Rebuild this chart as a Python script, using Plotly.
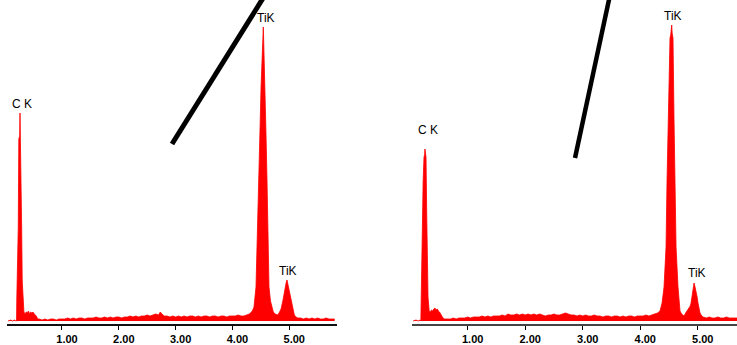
import plotly.graph_objects as go

# ---------------- data ----------------
left_energy = [0.05, 0.10, 0.13, 0.16, 0.19, 0.20, 0.205, 0.23, 0.24, 0.255, 0.261, 0.267, 0.278, 0.29, 0.30, 0.31,
               0.33, 0.35, 0.37, 0.39, 0.41, 0.43, 0.45, 0.47, 0.49, 0.51, 0.53, 0.55, 0.57, 0.60, 0.65, 0.70,
               0.75, 0.80, 0.85, 0.90, 0.95, 1.00, 1.05, 1.10, 1.15, 1.20, 1.25, 1.30, 1.35, 1.40, 1.45, 1.50,
               1.55, 1.60, 1.65, 1.70, 1.75, 1.80, 1.85, 1.90, 1.95, 2.00, 2.05, 2.10, 2.15, 2.20, 2.25, 2.30,
               2.35, 2.40, 2.45, 2.50, 2.55, 2.60, 2.65, 2.70, 2.73, 2.76, 2.80, 2.85, 2.90, 2.95, 3.00, 3.05,
               3.10, 3.15, 3.20, 3.25, 3.30, 3.35, 3.40, 3.45, 3.50, 3.55, 3.60, 3.65, 3.70, 3.75, 3.80, 3.85,
               3.90, 3.95, 4.00, 4.05, 4.10, 4.15, 4.20, 4.25, 4.30, 4.35, 4.38, 4.415, 4.433, 4.45, 4.468, 4.485,
               4.504, 4.521, 4.538, 4.544, 4.55, 4.556, 4.574, 4.59, 4.609, 4.627, 4.644, 4.67, 4.697, 4.72, 4.75,
               4.78, 4.80, 4.83, 4.856, 4.891, 4.91, 4.926, 4.945, 4.961, 4.98, 4.996, 5.015, 5.032, 5.05, 5.067,
               5.09, 5.12, 5.15, 5.20, 5.25, 5.30, 5.35, 5.40, 5.45, 5.50, 5.55, 5.60, 5.65, 5.70, 5.75, 5.80]
left_counts = [0, 1, 0, 1, 0, 0, 24, 93, 182, 185, 208, 185, 182, 93, 40, 24,
               9, 7, 9, 8, 10, 7, 9, 8, 9, 7, 6, 5, 2, 2, 1, 2,
               1, 2, 2, 1, 2, 2, 2, 3, 2, 3, 2, 3, 3, 2, 3, 3,
               3, 4, 3, 3, 4, 3, 4, 3, 4, 4, 3, 4, 4, 5, 4, 5,
               4, 5, 5, 6, 5, 6, 7, 6, 9, 7, 5, 5, 4, 5, 4, 5,
               4, 5, 4, 5, 5, 4, 5, 4, 5, 5, 4, 5, 5, 4, 5, 5,
               4, 5, 5, 5, 6, 5, 5, 6, 7, 10, 14, 34, 68, 100, 141, 190,
               234, 262, 281, 294, 281, 262, 234, 190, 141, 68, 34, 20, 14, 9, 7,
               6, 6, 9, 12, 21, 28, 33, 38, 41, 36, 30, 25, 21, 15, 10,
               6, 4, 3, 3, 2, 3, 2, 3, 2, 3, 2, 2, 3, 2, 2, 2]

right_energy = [0.05, 0.10, 0.14, 0.17, 0.185, 0.19, 0.21, 0.225, 0.24, 0.25, 0.257, 0.264, 0.275, 0.287, 0.30, 0.31,
                0.33, 0.35, 0.37, 0.39, 0.41, 0.43, 0.45, 0.47, 0.49, 0.51, 0.53, 0.55, 0.57, 0.60, 0.65, 0.70,
                0.75, 0.80, 0.85, 0.90, 0.95, 1.00, 1.05, 1.10, 1.15, 1.20, 1.25, 1.30, 1.35, 1.40, 1.45, 1.50,
                1.55, 1.60, 1.65, 1.70, 1.75, 1.80, 1.85, 1.90, 1.95, 2.00, 2.05, 2.10, 2.15, 2.20, 2.25, 2.30,
                2.35, 2.40, 2.45, 2.50, 2.55, 2.60, 2.65, 2.70, 2.75, 2.80, 2.85, 2.90, 2.95, 3.00, 3.05, 3.10,
                3.15, 3.20, 3.25, 3.30, 3.35, 3.40, 3.45, 3.50, 3.55, 3.60, 3.65, 3.70, 3.75, 3.80, 3.85, 3.90,
                3.95, 4.00, 4.05, 4.10, 4.15, 4.20, 4.25, 4.30, 4.344, 4.38, 4.414, 4.449, 4.466, 4.483, 4.50, 4.518,
                4.53, 4.542, 4.548, 4.555, 4.570, 4.588, 4.605, 4.623, 4.657, 4.675, 4.692, 4.72, 4.762, 4.79, 4.814,
                4.849, 4.87, 4.884, 4.90, 4.918, 4.936, 4.953, 4.971, 4.99, 5.005, 5.02, 5.04, 5.07, 5.092, 5.15,
                5.20, 5.25, 5.30, 5.35, 5.40, 5.45, 5.50, 5.55, 5.60, 5.65, 5.70]
right_counts = [0, 1, 0, 1, 0, 24, 108, 140, 164, 166, 172, 166, 164, 108, 50, 24,
                10, 9, 11, 10, 12, 13, 11, 12, 10, 9, 7, 5, 3, 2, 2, 2,
                3, 2, 3, 3, 3, 4, 3, 4, 4, 4, 5, 4, 5, 4, 5, 5,
                5, 6, 5, 7, 6, 6, 7, 6, 7, 6, 7, 6, 7, 6, 7, 6,
                5, 6, 6, 7, 6, 6, 7, 8, 7, 6, 6, 5, 6, 5, 6, 5,
                5, 6, 5, 5, 4, 5, 5, 4, 5, 5, 4, 5, 4, 5, 5, 4,
                5, 5, 5, 6, 5, 6, 7, 8, 10, 18, 34, 74, 140, 201, 250, 283,
                286, 290, 296, 288, 283, 201, 140, 74, 34, 18, 10, 7, 5, 8, 10,
                12, 15, 18, 25, 32, 38, 34, 30, 24, 18, 12, 8, 5, 4, 3,
                4, 3, 3, 4, 3, 3, 4, 3, 3, 3, 3]

tick_values = [1, 2, 3, 4, 5]
tick_labels = ["1.00", "2.00", "3.00", "4.00", "5.00"]

peak_labels = ["C K", "TiK", "TiK"]

# ---------------- figure ----------------
W, H = 737, 345
PLOT_H = 324  # plot area height in px (axis line at y=324)

fig = go.Figure()
fig.add_trace(go.Scatter(x=left_energy, y=left_counts, mode="lines", fill="tozeroy",
                         line=dict(color="#ff0000", width=0.8), fillcolor="#ff0000",
                         xaxis="x", yaxis="y", hoverinfo="skip", showlegend=False))
fig.add_trace(go.Scatter(x=right_energy, y=right_counts, mode="lines", fill="tozeroy",
                         line=dict(color="#ff0000", width=0.8), fillcolor="#ff0000",
                         xaxis="x2", yaxis="y2", hoverinfo="skip", showlegend=False))

common_x = dict(showgrid=False, zeroline=False, showline=True, linewidth=1.6,
                ticks="outside", ticklen=4, tickwidth=1, tickcolor="#000",
                tickvals=tick_values, ticktext=tick_labels, ticklabelshift=5,
                tickfont=dict(family="Liberation Sans", size=11, color="#000", weight="bold"))
common_y = dict(visible=False, range=[-3, 321], showgrid=False, zeroline=False)

fig.update_layout(
    width=W, height=H,
    margin=dict(l=0, r=0, t=0, b=H - PLOT_H),
    paper_bgcolor="white", plot_bgcolor="white",
    xaxis=dict(domain=[7 / W, 337 / W], range=[0.032, 5.841], linecolor="#111", anchor="y", **common_x),
    yaxis=dict(domain=[0, 1], anchor="x", **common_y),
    xaxis2=dict(domain=[411.7 / W, 1.0], range=[0.026, 5.683], linecolor="#444", anchor="y2", **common_x),
    yaxis2=dict(domain=[0, 1], anchor="x2", **common_y),
)

def px(xp):
    return xp / W

def py(yp):
    return (PLOT_H - yp) / PLOT_H

# peak labels (pixel positions of the text centres)
label_pos = [
    (peak_labels[0], 22, 104), (peak_labels[1], 266, 18), (peak_labels[2], 288, 271),
    (peak_labels[0], 427.5, 130), (peak_labels[1], 673, 16), (peak_labels[2], 697, 273),
]
for txt, xp, yp in label_pos:
    fig.add_annotation(text=txt, x=px(xp), y=py(yp), xref="paper", yref="paper",
                       showarrow=False, xanchor="center", yanchor="middle",
                       font=dict(family="Liberation Sans", size=12, color="#000"))

# thick black strokes drawn over the spectra
fig.add_shape(type="line", xref="paper", yref="paper",
              x0=px(172), y0=py(144), x1=px(265), y1=py(-5),
              line=dict(color="#000", width=5))
fig.add_shape(type="line", xref="paper", yref="paper",
              x0=px(575), y0=py(158), x1=px(610), y1=py(-5),
              line=dict(color="#000", width=4.5))

fig.write_html("out.html",
               config={"displayModeBar": False},
               post_script="document.body.style.margin='0';document.body.style.overflow='hidden';")
